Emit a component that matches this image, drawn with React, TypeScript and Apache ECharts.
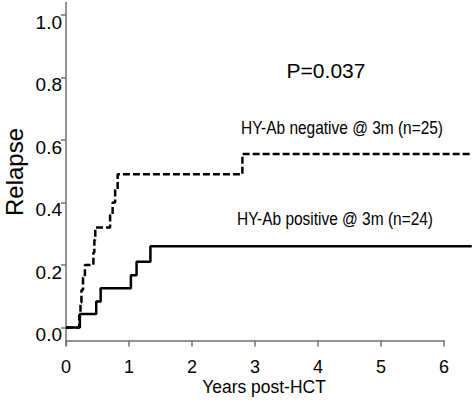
import React, { useEffect, useRef } from "react";
import * as echarts from "echarts";

// Cumulative incidence of relapse (step functions)
const negTimes = [0, 0.21, 0.23, 0.245, 0.27, 0.3, 0.435, 0.45, 0.465, 0.7, 0.74, 0.78, 0.82, 2.8, 6.44];
const negValues = [0, 0.04, 0.08, 0.12, 0.16, 0.2, 0.24, 0.28, 0.32, 0.36, 0.4, 0.44, 0.49, 0.555, 0.555];
const posTimes = [0, 0.22, 0.48, 0.55, 1.03, 1.12, 1.34, 6.44];
const posValues = [0, 0.043, 0.083, 0.125, 0.167, 0.21, 0.26, 0.26];

const yTickValues = [0, 0.2, 0.4, 0.6, 0.8, 1.0];
const xTickValues = [0, 1, 2, 3, 4, 5, 6];

const yTitle = "Relapse";
const xTitle = "Years post-HCT";
const pText = "P=0.037";
const negLabel = "HY-Ab negative @ 3m (n=25)";
const posLabel = "HY-Ab positive @ 3m (n=24)";

const FONT = "'Liberation Sans', Arial, Helvetica, sans-serif";

export default function App() {
  const ref = useRef<HTMLDivElement>(null);
  useEffect(() => {
    if (!ref.current) return;
    const chart = echarts.init(ref.current, undefined, { renderer: "svg" });
    const axisColor = "#707070";
    const Y_MIN = -0.042;
    const Y_MAX = 1.04;
    const PX_PER_YEAR = 63;
    const plotRight = 2; // curves run past the last tick
    const extWidth = 474 - 66 - plotRight;
    chart.setOption({
      animation: false,
      backgroundColor: "#ffffff",
      textStyle: { fontFamily: FONT },
      grid: [
        { left: 66, right: 30, top: 2.5, bottom: 64.5, containLabel: false },
        { left: 66, right: plotRight, top: 2.5, bottom: 64.5, containLabel: false },
      ],
      xAxis: [
        {
          type: "value",
          gridIndex: 0,
          min: 0,
          max: 6,
          interval: 1,
          axisLine: { onZero: false, lineStyle: { color: axisColor, width: 1.5 } },
          axisTick: { show: true, inside: false, length: 6, lineStyle: { color: axisColor, width: 1.5 } },
          axisLabel: {
            color: "#000",
            fontSize: 18,
            fontFamily: FONT,
            margin: 18,
            lineHeight: 16,
            verticalAlign: "top",
            customValues: xTickValues,
            formatter: (v: number) => String(v),
          },
          splitLine: { show: false },
        },
        {
          type: "value",
          gridIndex: 1,
          min: 0,
          max: extWidth / PX_PER_YEAR,
          show: false,
          splitLine: { show: false },
        },
      ],
      yAxis: [
        {
          type: "value",
          gridIndex: 0,
          min: Y_MIN,
          max: Y_MAX,
          axisLine: { onZero: false, lineStyle: { color: axisColor, width: 1.5 } },
          axisTick: {
            show: true,
            length: 5,
            customValues: yTickValues,
            lineStyle: { color: axisColor, width: 1.5 },
          },
          axisLabel: {
            color: "#000",
            opacity: 1,
            fontSize: 19,
            fontFamily: FONT,
            margin: 4,
            verticalAlign: "top",
            lineHeight: 15,
            hideOverlap: false,
            customValues: yTickValues,
            formatter: (v: number) => v.toFixed(1),
          },
          splitLine: { show: false },
        },
        {
          type: "value",
          gridIndex: 1,
          min: Y_MIN,
          max: Y_MAX,
          show: false,
          splitLine: { show: false },
        },
      ],
      series: [
        {
          type: "line",
          name: negLabel,
          xAxisIndex: 1,
          yAxisIndex: 1,
          step: "end",
          symbol: "none",
          data: negTimes.map((t, i) => [t, negValues[i]]),
          lineStyle: { color: "#000", width: 2.5, type: [7, 3] },
        },
        {
          type: "line",
          name: posLabel,
          xAxisIndex: 1,
          yAxisIndex: 1,
          step: "end",
          symbol: "none",
          data: posTimes.map((t, i) => [t, posValues[i]]),
          lineStyle: { color: "#000", width: 2.5 },
        },
      ],
      graphic: [
        {
          type: "line",
          shape: { x1: 66.5, y1: 340, x2: 66.5, y2: 346 },
          style: { stroke: axisColor, lineWidth: 1.5 },
        },
        {
          type: "text",
          x: 14,
          y: 172,
          rotation: Math.PI / 2,
          style: {
            text: yTitle,
            fontSize: 24,
            fontFamily: FONT,
            fill: "#000",
            align: "center",
            verticalAlign: "middle",
          },
        },
        {
          type: "text",
          x: 264,
          y: 386,
          scaleX: 0.92,
          style: {
            text: xTitle,
            fontSize: 19,
            fontFamily: FONT,
            fill: "#000",
            align: "center",
            verticalAlign: "middle",
          },
        },
        {
          type: "text",
          x: 326,
          y: 70,
          style: {
            text: pText,
            fontSize: 21,
            fontFamily: FONT,
            fill: "#000",
            align: "center",
            verticalAlign: "middle",
          },
        },
        {
          type: "text",
          x: 342,
          y: 128,
          scaleX: 0.86,
          style: {
            text: negLabel,
            fontSize: 18,
            fontFamily: FONT,
            fill: "#000",
            align: "center",
            verticalAlign: "middle",
          },
        },
        {
          type: "text",
          x: 335,
          y: 219,
          scaleX: 0.86,
          style: {
            text: posLabel,
            fontSize: 18,
            fontFamily: FONT,
            fill: "#000",
            align: "center",
            verticalAlign: "middle",
          },
        },
      ],
    });
    return () => chart.dispose();
  }, []);
  return (
    <div
      ref={ref}
      style={{ position: "fixed", left: 0, top: 0, width: 474, height: 405, background: "#fff" }}
    />
  );
}
